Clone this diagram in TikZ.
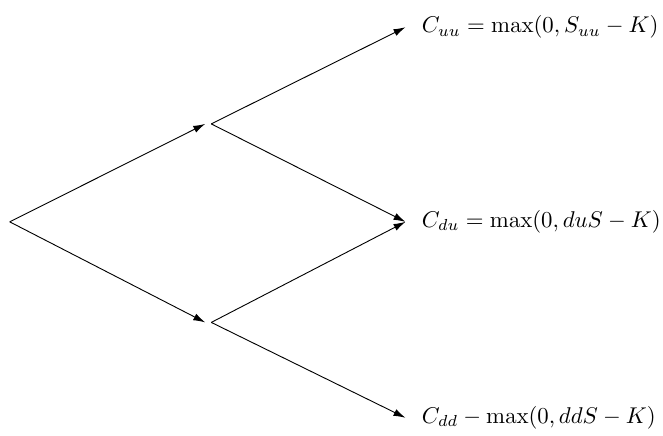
\documentclass[tikz,border=0pt]{standalone}
\usepackage{amsmath,amssymb}
\usepackage{tikz}
\usetikzlibrary{positioning,arrows.meta}

\begin{document}
\begin{tikzpicture}[
          x=1cm, y=1cm,
          pt/.style={inner sep=0.04cm, minimum size=0pt},
          leaf/.style={anchor=west, inner xsep=7pt, inner ysep=2pt},
          edge/.style={thin, -{Latex[length=5.2pt, width=3.2pt]}}
      ]
        \useasboundingbox (0,0) rectangle (10.22,6.71);
        \node[pt] (s) at (0.15,3.29) {};
        \node[pt] (u) at (3.21,4.80) {};
        \node[pt] (d) at (3.21,1.74) {};
        \node[leaf] (uu) at (6.25,6.29) {$C_{uu} = \max(0, S_{uu} - K)$};
        \node[leaf] (du) at (6.25,3.29) {$C_{du} = \max(0, duS - K)$};
        \node[leaf] (dd) at (6.25,0.27) {$C_{dd} - \max(0, ddS - K)$};
        \draw[edge] (s.center) -- (u.west);
        \draw[edge] (s.center) -- (d.west);
        \draw[edge] (u.east) -- (uu.west);
        \draw[edge] (u.east) -- (du.west);
        \draw[edge] (d.east) -- (du.west);
        \draw[edge] (d.east) -- (dd.west);
      \end{tikzpicture}
\end{document}
